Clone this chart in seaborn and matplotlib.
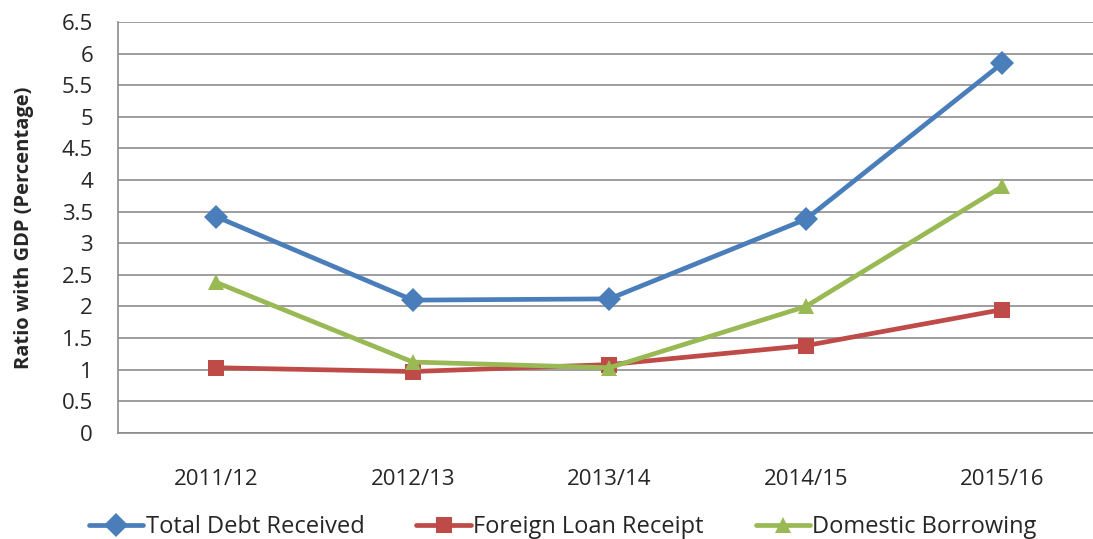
import numpy as np
import pandas as pd
import matplotlib
matplotlib.use("Agg")
import matplotlib.pyplot as plt
import seaborn as sns

years = ["2011/12", "2012/13", "2013/14", "2014/15", "2015/16"]
total_debt = [3.42, 2.10, 2.12, 3.38, 5.85]
foreign_loan = [1.03, 0.97, 1.08, 1.38, 1.95]
domestic = [2.38, 1.12, 1.03, 2.00, 3.90]

series_names = ["Total Debt Received", "Foreign Loan Receipt", "Domestic Borrowing"]
colors = ["#4A7EBB", "#BE4B48", "#98B954"]
markers = ["D", "s", "^"]

df = pd.DataFrame({
    "year": years * 3,
    "value": total_debt + foreign_loan + domestic,
    "series": [series_names[0]] * 5 + [series_names[1]] * 5 + [series_names[2]] * 5,
})
df["x"] = np.tile(np.arange(len(years)), 3)

sns.set_style("white")
plt.rcParams["font.family"] = ["Open Sans", "DejaVu Sans"]

fig = plt.figure(figsize=(10.93, 5.39), dpi=100)
ax = fig.add_axes([0.108, 0.197, 0.899, 0.762])

sns.lineplot(data=df, x="x", y="value", hue="series", style="series",
             palette=colors, markers=markers, dashes=False, linewidth=3.4,
             markersize=12, markeredgewidth=0, ax=ax, legend=False, zorder=3)

ax.set_xlim(-0.5, 4.5)
ax.set_ylim(0, 6.5)
ax.set_yticks(np.arange(0, 6.51, 0.5))
ax.set_yticklabels([f"{v:g}" for v in np.arange(0, 6.51, 0.5)], fontsize=16)
ax.yaxis.grid(True, color="#8c8c8c", linewidth=1.2)
ax.set_axisbelow(True)

# category boundaries as tick marks, labels centred between them
ax.set_xticks(np.arange(-0.5, 4.6, 1))
ax.set_xticklabels([])
ax.set_xticks(np.arange(len(years)), minor=True)
ax.set_xticklabels(years, minor=True, fontsize=16)
ax.tick_params(axis="x", which="major", length=6, width=1.2, color="#8c8c8c", direction="out")
ax.tick_params(axis="x", which="minor", length=0, pad=26)
ax.tick_params(axis="y", length=6, width=1.2, color="#8c8c8c", direction="out", pad=12)

for side in ["top", "right"]:
    ax.spines[side].set_visible(False)
for side in ["left", "bottom"]:
    ax.spines[side].set_color("#8c8c8c")
    ax.spines[side].set_linewidth(1.2)

ax.set_xlabel("")
ax.set_ylabel("Ratio with GDP (Percentage)", fontsize=14.5, fontweight="bold", labelpad=20)

handles = [plt.Line2D([], [], color=c, marker=m, linewidth=3.4, markersize=12,
                      markeredgewidth=0) for c, m in zip(colors, markers)]
fig.legend(handles, series_names, loc="lower center", bbox_to_anchor=(0.515, -0.04),
           ncol=3, frameon=False, handlelength=2.3, handletextpad=0.1,
           columnspacing=2.2,
           prop={"family": ["Open Sans"], "size": 17})

fig.savefig("out.png", dpi=100)
